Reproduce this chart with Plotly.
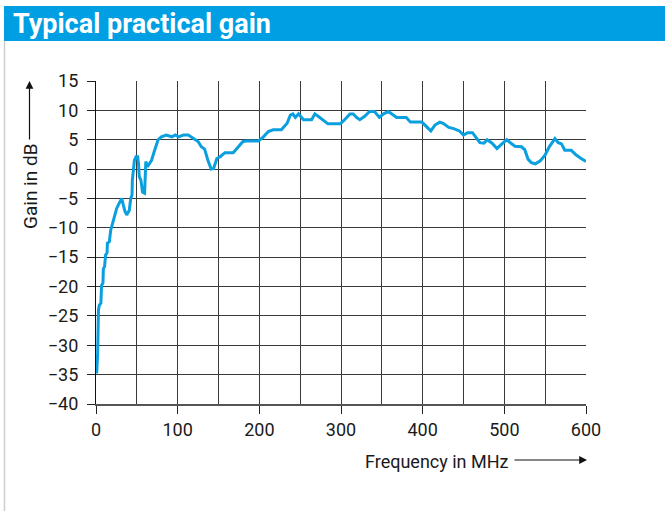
import plotly.graph_objects as go

# Data
freq_mhz = [0.8, 2.0, 3.0, 4.0, 6.0, 6.8, 8.5, 9.0, 10.5, 11.8, 13.5, 14.0, 16.3, 18.0,
            20.4, 23.3, 25.3, 28.5, 31.5, 33.4, 35.5, 37.6, 40.8, 42.5, 44.1, 44.5, 46,
            47, 49, 51, 52, 53, 55, 57, 59.5, 60, 61, 63, 65, 68, 72, 76, 80, 86, 93, 97,
            101, 107, 113, 119, 125, 129, 133, 137, 141, 144, 148, 152, 158, 168, 174,
            180, 184, 199, 205, 211, 217, 227, 234, 238, 241, 244, 248, 252, 254, 264,
            268, 272, 278, 284, 299, 303, 311, 315, 319, 323, 329, 335, 341, 347, 352,
            358, 364, 368, 380, 385, 399, 404, 410, 415, 421, 425, 432, 438, 445, 450,
            455, 461, 465, 470, 475, 479, 485, 491, 497, 503, 509, 513, 521, 525, 529,
            533, 538, 544, 550, 555, 562, 566, 570, 574, 582, 588, 594, 600]
gain_db = [-34.8, -31.5, -24.0, -23.2, -22.8, -19.8, -19.4, -17.0, -16.6, -14.6, -14.3,
           -12.6, -12.4, -10.4, -9.2, -7.8, -6.7, -5.8, -5.0, -6.1, -7.2, -7.8, -7.0,
           -5.0, -4.4, -1.9, 0.5, 1.5, 2.1, 2.1, 1.0, -1.3, -1.9, -3.9, -4.1, -1.0, 1.3,
           0.4, 0.8, 1.5, 3.3, 5.0, 5.5, 5.8, 5.5, 5.8, 5.5, 5.8, 5.8, 5.2, 4.7, 3.8,
           3.4, 1.5, 0.0, 0.1, 1.8, 2.1, 2.8, 2.8, 3.8, 4.7, 4.8, 4.8, 5.5, 6.4, 6.7,
           6.7, 7.8, 9.2, 9.4, 8.8, 9.4, 8.6, 8.4, 8.4, 9.4, 9.0, 8.4, 7.7, 7.7, 8.2,
           9.4, 9.4, 8.8, 8.4, 9.0, 9.8, 9.8, 8.8, 9.4, 9.8, 9.2, 8.8, 8.8, 8.0, 8.0,
           7.3, 6.5, 7.5, 8.0, 7.8, 7.1, 6.9, 6.5, 5.8, 6.2, 6.2, 5.5, 4.5, 4.4, 5.0,
           4.4, 3.5, 4.3, 5.0, 4.3, 3.9, 3.8, 3.3, 1.7, 1.1, 0.9, 1.4, 2.4, 3.8, 5.2,
           4.5, 4.3, 3.2, 3.2, 2.4, 1.8, 1.3]

x_tick_vals = [0, 100, 200, 300, 400, 500, 600]
x_tick_text = ["0", "100", "200", "300", "400", "500", "600"]
y_tick_vals = [15, 10, 5, 0, -5, -10, -15, -20, -25, -30, -35, -40]
y_tick_text = ["15", "10", "5", "0", "\u22125", "\u221210", "\u221215", "\u221220",
               "\u221225", "\u221230", "\u221235", "\u221240"]

title_text = "Typical practical gain"
x_label = "Frequency in MHz"
y_label = "Gain in dB"

FONT = "Roboto, Liberation Sans, sans-serif"
BLUE = "#009FE3"
GRID = "#3a3a3a"

fig = go.Figure()
fig.add_trace(go.Scatter(x=freq_mhz, y=gain_db, mode="lines",
                         line=dict(color="#0A9FDF", width=3), hoverinfo="skip"))

W, H = 665, 511
L, R, T, B = 96, 79, 81, 107
pw, ph = W - L - R, H - T - B


def px(x):
    return (x - L) / pw


def py(y):
    return (H - B - y) / ph


fig.update_layout(
    width=W, height=H,
    margin=dict(l=L, r=R, t=T, b=B),
    paper_bgcolor="white", plot_bgcolor="white",
    showlegend=False,
    font=dict(family=FONT, size=18, color="#1a1a1a"),
    xaxis=dict(range=[0, 600], tickvals=x_tick_vals, ticktext=x_tick_text,
               ticks="outside", ticklen=8, tickcolor="#222", tickwidth=1.2,
               showgrid=True, gridcolor=GRID, gridwidth=1.3,
               minor=dict(dtick=50, showgrid=True, gridcolor=GRID, gridwidth=1.3, ticks=""),
               showline=True, linecolor="#555", linewidth=2, zeroline=False,
               fixedrange=True),
    yaxis=dict(range=[-40, 15], tickvals=y_tick_vals, ticktext=y_tick_text,
               ticks="outside", ticklen=8, tickcolor="#222", tickwidth=1.2,
               ticklabelstandoff=5,
               showgrid=True, gridcolor=GRID, gridwidth=1.3,
               showline=True, linecolor="#111", linewidth=1.3, zeroline=False,
               fixedrange=True),
)

# title bar
fig.add_shape(type="rect", xref="paper", yref="paper",
              x0=px(4), x1=px(665), y0=py(41), y1=py(6),
              fillcolor=BLUE, line=dict(width=0), layer="below")
# page left border
fig.add_shape(type="line", xref="paper", yref="paper",
              x0=px(4.5), x1=px(4.5), y0=py(41), y1=py(511),
              line=dict(color="#cfcfcf", width=1.5))

fig.add_annotation(text="<b>" + title_text + "</b>", xref="paper", yref="paper",
                   x=px(11), y=py(24), xanchor="left", yanchor="middle",
                   showarrow=False, font=dict(family=FONT, size=27, color="white"))

# x label and arrow
fig.add_annotation(text=x_label, xref="paper", yref="paper",
                   x=px(511), y=py(461), xanchor="right", yanchor="middle",
                   showarrow=False, font=dict(family=FONT, size=18, color="#1a1a1a"))
fig.add_annotation(text="", xref="paper", yref="paper",
                   x=px(587), y=py(460), ax=-74, ay=0,
                   showarrow=True, arrowhead=2, arrowsize=1.3, arrowwidth=1.2,
                   arrowcolor="#111")

# y label and arrow
fig.add_annotation(text=y_label, xref="paper", yref="paper",
                   x=px(30), y=py(187), xanchor="center", yanchor="middle",
                   textangle=-90, showarrow=False,
                   font=dict(family=FONT, size=19, color="#1a1a1a"))
fig.add_annotation(text="", xref="paper", yref="paper",
                   x=px(29.5), y=py(81), ax=0, ay=60,
                   showarrow=True, arrowhead=2, arrowsize=1.3, arrowwidth=1.2,
                   arrowcolor="#111")

fig.write_html("out.html", config={"displayModeBar": False},
               post_script="document.body.style.margin='0';document.body.style.overflow='hidden';")
